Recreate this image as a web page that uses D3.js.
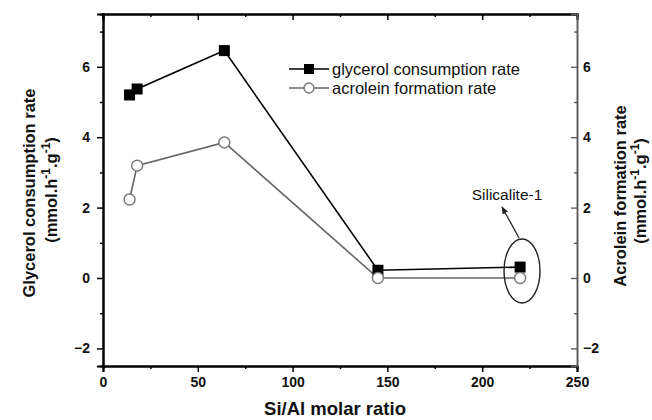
<!DOCTYPE html>
<html>
<head>
<meta charset="utf-8">
<script src="https://cdn.jsdelivr.net/npm/d3@7"></script>
<style>
  html, body { margin: 0; padding: 0; background: #fff; }
  svg { display: block; }
  svg text { font-family: "Liberation Sans", Arial, Helvetica, sans-serif; fill: #111; }
  .tick text { font-weight: bold; font-size: 14px; }
</style>
</head>
<body>
<svg id="chart" width="652" height="420"></svg>
<script>
// Si/Al molar ratio of each catalyst
const siAlRatio = [14, 18, 64, 145, 220];
// Glycerol consumption rate (mmol.h-1.g-1)
const glycerolRate = [5.2, 5.37, 6.46, 0.22, 0.31];
// Acrolein formation rate (mmol.h-1.g-1)
const acroleinRate = [2.23, 3.19, 3.85, 0.0, 0.0];

const xMajorTicks = [0, 50, 100, 150, 200, 250];
const xMinorTicks = [25, 75, 125, 175, 225];
const yMajorTicks = [-2, 0, 2, 4, 6];
const yMinorTicks = [-1, 1, 3, 5, 7];

const seriesNames = ["glycerol consumption rate", "acrolein formation rate"];
const annotationText = "Silicalite-1";
const annotationCenter = [221, 0.2];

const svg = d3.select("#chart");
const plotLeft = 103, plotRight = 577, plotTop = 14, plotBottom = 366;

const x = d3.scaleLinear().domain([0, 250]).range([plotLeft, plotRight]);
const y = d3.scaleLinear().domain([-2.5, 7.5]).range([plotBottom, plotTop]);

// Bottom axis (ticks outward)
const gBottom = svg.append("g").attr("transform", `translate(0,${plotBottom})`);
gBottom.call(d3.axisBottom(x).tickValues(xMajorTicks).tickSize(6).tickPadding(5).tickFormat(d3.format("d")));
gBottom.append("g").call(d3.axisBottom(x).tickValues(xMinorTicks).tickSize(3).tickFormat(""));

// Left axis (ticks outward)
const gLeft = svg.append("g").attr("transform", `translate(${plotLeft},0)`);
gLeft.call(d3.axisLeft(y).tickValues(yMajorTicks).tickSize(6).tickPadding(7).tickFormat(d3.format("d")));
gLeft.append("g").call(d3.axisLeft(y).tickValues(yMinorTicks).tickSize(3).tickFormat(""));

// Top axis (ticks inward, no labels)
const gTop = svg.append("g").attr("transform", `translate(0,${plotTop})`);
gTop.call(d3.axisTop(x).tickValues(xMajorTicks).tickSize(-6).tickFormat(""));
gTop.append("g").call(d3.axisTop(x).tickValues(xMinorTicks).tickSize(-3).tickFormat(""));

// Right axis (ticks inward, labelled)
const gRight = svg.append("g").attr("transform", `translate(${plotRight},0)`);
gRight.call(d3.axisRight(y).tickValues(yMajorTicks).tickSize(-6).tickPadding(7).tickFormat(d3.format("d")));
gRight.append("g").call(d3.axisRight(y).tickValues(yMinorTicks).tickSize(-3).tickFormat(""));

[gBottom, gLeft, gTop].forEach(g => {
  g.selectAll(".domain").attr("stroke", "#000").attr("stroke-width", 2);
  g.selectAll(".tick line").attr("stroke", "#000").attr("stroke-width", 1.5);
});
gRight.selectAll(".domain").attr("stroke", "#555").attr("stroke-width", 1.5);
gRight.selectAll(".tick line").attr("stroke", "#555").attr("stroke-width", 1.3);
[gBottom, gLeft, gTop, gRight].forEach(g => g.attr("font-family", null).attr("font-size", null));
svg.selectAll(".tick text").attr("font-weight", "bold").attr("font-size", 14);
gRight.selectAll(".tick text").attr("x", 6);

// Lines and markers
const line = (vals) => d3.line().x((d, i) => x(siAlRatio[i])).y(d => y(d))(vals);

svg.append("path").attr("d", line(acroleinRate))
  .attr("fill", "none").attr("stroke", "#666").attr("stroke-width", 1.6);
svg.append("path").attr("d", line(glycerolRate))
  .attr("fill", "none").attr("stroke", "#000").attr("stroke-width", 1.6);

const sq = 11;
svg.append("g").selectAll("rect").data(glycerolRate).join("rect")
  .attr("x", (d, i) => x(siAlRatio[i]) - sq / 2)
  .attr("y", d => y(d) - sq / 2)
  .attr("width", sq).attr("height", sq).attr("fill", "#000");

svg.append("g").selectAll("circle").data(acroleinRate).join("circle")
  .attr("cx", (d, i) => x(siAlRatio[i]))
  .attr("cy", d => y(d))
  .attr("r", 5.5).attr("fill", "#fff").attr("stroke", "#777").attr("stroke-width", 1.4);

// Legend
const legend = svg.append("g");
const legY = [69, 88];
legend.append("line").attr("x1", 289).attr("x2", 329).attr("y1", legY[0]).attr("y2", legY[0])
  .attr("stroke", "#000").attr("stroke-width", 1.6);
legend.append("rect").attr("x", 309 - 5).attr("y", legY[0] - 5).attr("width", 10).attr("height", 10).attr("fill", "#000");
legend.append("line").attr("x1", 289).attr("x2", 329).attr("y1", legY[1]).attr("y2", legY[1])
  .attr("stroke", "#666").attr("stroke-width", 1.6);
legend.append("circle").attr("cx", 309).attr("cy", legY[1]).attr("r", 5)
  .attr("fill", "#fff").attr("stroke", "#777").attr("stroke-width", 1.4);
seriesNames.forEach((name, i) => {
  legend.append("text").attr("x", 332).attr("y", legY[i] + 5.5)
    .style("font-size", "16.5px").text(name);
});

// Silicalite-1 annotation
const [ax, ay] = [x(annotationCenter[0]), y(annotationCenter[1])];
svg.append("ellipse").attr("cx", ax).attr("cy", ay).attr("rx", 18).attr("ry", 32)
  .attr("fill", "none").attr("stroke", "#222").attr("stroke-width", 1.4);
svg.append("defs").append("marker").attr("id", "arrow")
  .attr("viewBox", "0 0 10 10").attr("refX", 9).attr("refY", 5)
  .attr("markerWidth", 6).attr("markerHeight", 6).attr("orient", "auto")
  .append("path").attr("d", "M0,1 L10,5 L0,9 Z").attr("fill", "#222");
svg.append("line").attr("x1", ax - 3).attr("y1", ay - 33).attr("x2", ax - 20).attr("y2", ay - 64)
  .attr("stroke", "#222").attr("stroke-width", 1.3).attr("marker-end", "url(#arrow)");
svg.append("text").attr("x", 507).attr("y", 200).attr("text-anchor", "middle")
  .style("font-size", "15.5px").text(annotationText);

// Axis titles
svg.append("text").attr("x", 335).attr("y", 415).attr("text-anchor", "middle")
  .style("font-size", "18.5px").style("font-weight", "bold").text("Si/Al molar ratio");

const sideSize = "16.5px";
function unitLabel(sel) {
  sel.append("tspan").text("(mmol.h");
  sel.append("tspan").attr("dy", -7).style("font-size", "12px").text("-1");
  sel.append("tspan").attr("dy", 7).text(".g");
  sel.append("tspan").attr("dy", -7).style("font-size", "12px").text("-1");
  sel.append("tspan").attr("dy", 7).text(")");
}

svg.append("text").attr("transform", "translate(35,193) rotate(-90)").attr("text-anchor", "middle")
  .style("font-size", sideSize).style("font-weight", "bold").text("Glycerol consumption rate");
svg.append("text").attr("transform", "translate(57,190) rotate(-90)").attr("text-anchor", "middle")
  .style("font-size", sideSize).style("font-weight", "bold").call(unitLabel);

svg.append("text").attr("transform", "translate(626,196) rotate(-90)").attr("text-anchor", "middle")
  .style("font-size", sideSize).style("font-weight", "bold").text("Acrolein formation rate");
svg.append("text").attr("transform", "translate(646,191) rotate(-90)").attr("text-anchor", "middle")
  .style("font-size", sideSize).style("font-weight", "bold").call(unitLabel);
</script>
</body>
</html>
